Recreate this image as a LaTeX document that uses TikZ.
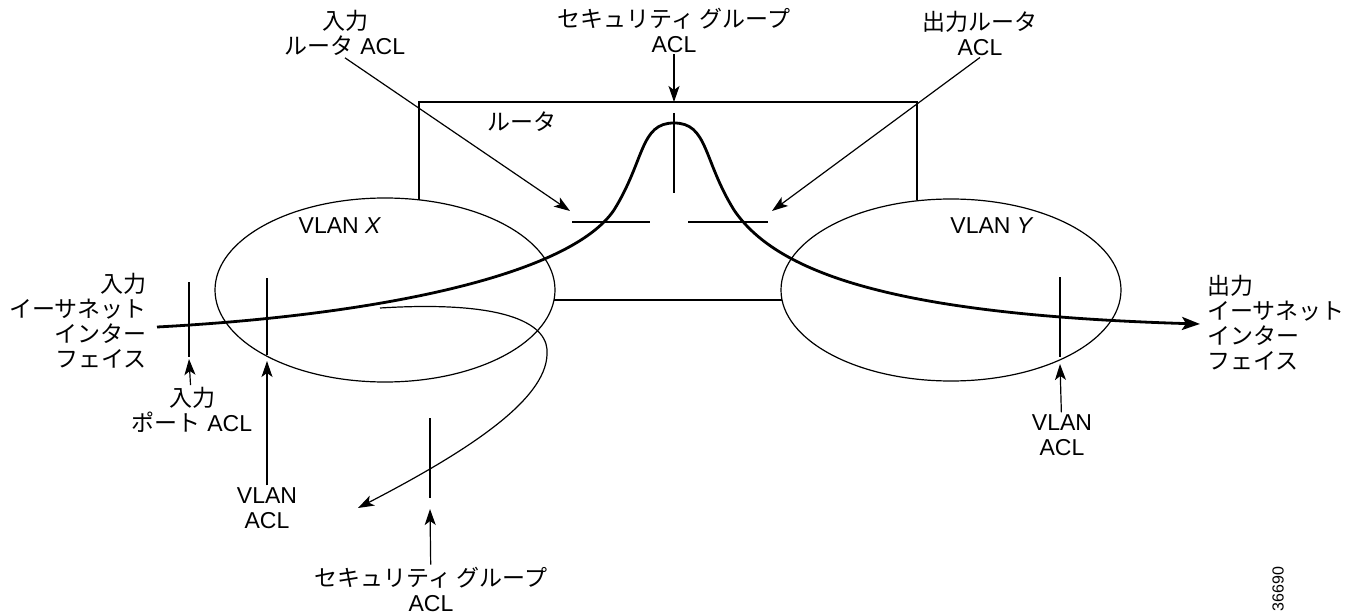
\documentclass[tikz,border=0pt]{standalone}
\usepackage{fontspec}
\setmainfont{Liberation Sans}
\newfontfamily\jpfont{Noto Sans CJK JP}
\usetikzlibrary{arrows.meta,positioning,shapes.geometric}
\newcommand{\jp}[1]{{\jpfont #1}}

\begin{document}
\begin{tikzpicture}[x=1pt,y=-1pt,
  lbl/.style={align=center,inner sep=2pt,font=\fontsize{23}{25}\selectfont},
  wire/.style={line width=1.2pt},
  vlan/.style={draw,ellipse,line width=1.2pt,inner sep=0pt},
  acl/.style={line width=1.2pt,-{Stealth[length=16pt,width=11pt,inset=4pt]}},
  flow/.style={line width=2.8pt,-{Stealth[length=18pt,width=13pt,inset=4pt]}}]
\useasboundingbox (0,0) rectangle (1361,615);

% VLANs and router
\node[vlan,minimum width=340pt,minimum height=184pt] (vlanx) at (385,290) {};
\node[vlan,minimum width=340pt,minimum height=182pt] (vlany) at (951,290) {};
\draw[wire] (419,200) |- (917,102) -- (917,200);
\draw[wire] (554,300) -- (782,300);
\node[lbl] (router) at (522,122) {\jp{ルータ}};
\node[lbl] (vlanxlbl) at (340,226) {VLAN \textit{X}};
\node[lbl] (vlanylbl) at (992,226) {VLAN \textit{Y}};

% ACL marks
\coordinate (inTip) at (570,211);
\coordinate (outTip) at (772,211);
\draw[wire] (189,282) -- (189,357);
\draw[wire] (267,278) -- (267,355);
\draw[wire] (430,418) -- (430,498);
\draw[wire] (1060,277) -- (1060,357);
\draw[wire] (674,113) -- (674,193);
\draw[wire] (572,222) -- (650,222);
\draw[wire] (688,222) -- (768,222);

% labels
\node[lbl,align=right,anchor=east] (iniface) at (149,321)
  {\jp{入力}\\\jp{イーサネット}\\\jp{インター}\\\jp{フェイス}};
\node[lbl,align=left,anchor=west] (outiface) at (1205,323)
  {\jp{出力}\\\jp{イーサネット}\\\jp{インター}\\\jp{フェイス}};
\node[lbl] (sgtop) at (674,30) {\jp{セキュリティ グループ}\\ACL};
\node[lbl] (inrouter) at (345,33) {\jp{入力}\\\jp{ルータ} ACL};
\node[lbl] (outrouter) at (980,33) {\jp{出力ルータ}\\ACL};
\node[lbl] (inport) at (192,410) {\jp{入力}\\\jp{ポート} ACL};
\node[lbl] (vlanaclx) at (267,508) {VLAN\\ACL};
\node[lbl] (sgbot) at (431,589) {\jp{セキュリティ グループ}\\ACL};
\node[lbl] (vlanacly) at (1062,435) {VLAN\\ACL};
\node[rotate=90,inner sep=1pt,font=\fontsize{16}{16}\selectfont] (figno) at (1278,589) {36690};

% arrows to the ACLs
\draw[acl] (sgtop) -- (674,102);
\draw[acl] (inrouter.south) -- (inTip);
\draw[acl] (outrouter.south) -- (outTip);
\draw[acl] (inport) -- (189,359);
\draw[acl] (vlanaclx) -- (267,361);
\draw[acl] (sgbot) -- (430,509);
\draw[acl] (vlanacly) -- (1060,364);

% traffic
\coordinate (flowin) at (157,327);
\coordinate (flowout) at (1200,324);
\draw[flow] (flowin) .. controls (380,315) and (570,275) .. (614,210)
  .. controls (645,160) and (640,123) .. (674,123)
  .. controls (708,123) and (703,160) .. (734,210)
  .. controls (778,275) and (900,315) .. (flowout);
\draw[acl] (380,308) .. controls (510,300) and (550,325) .. (547,355)
  .. controls (545,400) and (470,450) .. (358,508);
\end{tikzpicture}
\end{document}
